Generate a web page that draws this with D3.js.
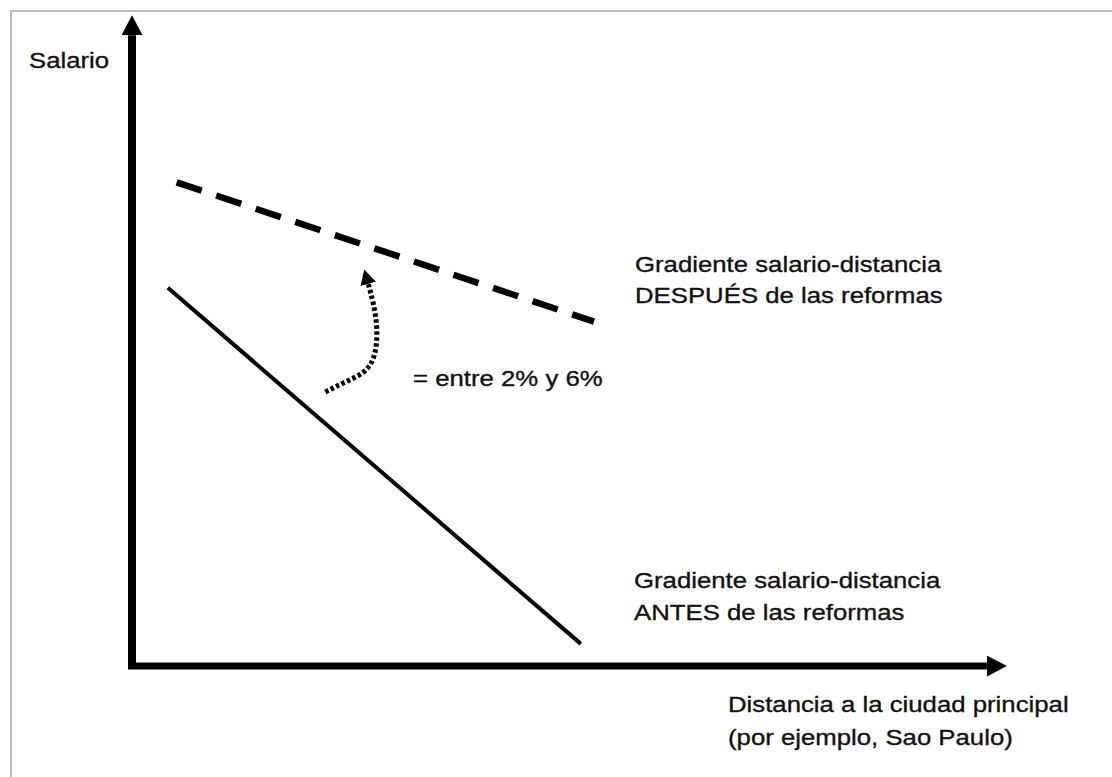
<!DOCTYPE html>
<meta charset="utf-8">
<title>gradiente salario-distancia</title>
<style>
body {
  margin: 0px;
  background: #fff;
}
svg {
  display: block;
}
text {
  font-family: "Liberation Sans", Arial, sans-serif;
  font-size: 23px;
  fill: #111;
  stroke: #111;
  stroke-width: 0.35px;
}
</style>

<script src="https://d3js.org/d3.v7.min.js"></script>

<body>
<script>
var width = 1112, height = 777;

// conceptual units: 0-100 on both axes
var antes = [[4.1, 58.1], [51.3, 3.4]];          // before the reforms (solid)
var despues = [[5.1, 74.3], [52.8, 52.9]];       // after the reforms (dashed)
var shift = [[22.1, 42.1], [24.3, 43.6], [26.6, 45.0], [27.6, 46.9],
             [28.0, 49.5], [28.0, 52.5], [27.6, 55.8], [27.0, 58.7]]; // dotted arrow

var labelAntes = ["Gradiente salario-distancia", "ANTES de las reformas"];
var labelDespues = ["Gradiente salario-distancia", "DESPUÉS de las reformas"];
var labelShift = ["= entre 2% y 6%"];
var labelX = ["Distancia a la ciudad principal", "(por ejemplo, Sao Paulo)"];
var labelY = ["Salario"];

var svg = d3.select("body").append("svg")
    .attr("width", width)
    .attr("height", height);

var x = d3.scaleLinear().domain([0, 100]).range([132, 1007]);
var y = d3.scaleLinear().domain([0, 100]).range([666, 15]);

var line = d3.line()
    .x(function(d) { return x(d[0]); })
    .y(function(d) { return y(d[1]); });

// frame
svg.append("rect")
    .attr("x", 11).attr("y", 11)
    .attr("width", width).attr("height", height)
    .attr("fill", "none")
    .attr("stroke", "#bdbdbd")
    .attr("stroke-width", 2);

var defs = svg.append("defs");
function arrow(id, w, h) {
  defs.append("marker")
      .attr("id", id)
      .attr("markerUnits", "userSpaceOnUse")
      .attr("viewBox", "0 " + (-h) + " " + w + " " + (2 * h))
      .attr("refX", 0).attr("refY", 0)
      .attr("markerWidth", w).attr("markerHeight", 2 * h)
      .attr("orient", "auto")
    .append("path")
      .attr("d", "M0," + (-h) + "L" + w + ",0L0," + h + "Z")
      .attr("fill", "#000");
}
arrow("axisArrow", 20, 10.5);
arrow("smallArrow", 15, 8);

// axes
svg.append("path")
    .attr("d", line([[0, 0], [0, 96.9]]))
    .attr("fill", "none")
    .attr("stroke", "#000")
    .attr("stroke-width", 8)
    .attr("marker-end", "url(#axisArrow)");
svg.append("path")
    .attr("d", "M" + (x(0) - 4) + "," + y(0) + "H" + x(97.7))
    .attr("fill", "none")
    .attr("stroke", "#000")
    .attr("stroke-width", 7)
    .attr("marker-end", "url(#axisArrow)");

// gradients
svg.append("path")
    .attr("d", line(antes))
    .attr("fill", "none")
    .attr("stroke", "#000")
    .attr("stroke-width", 4);

svg.append("path")
    .attr("d", line(despues))
    .attr("fill", "none")
    .attr("stroke", "#000")
    .attr("stroke-width", 6.5)
    .attr("stroke-dasharray", "26.4,15.3");

svg.append("path")
    .attr("d", line.curve(d3.curveBasis)(shift))
    .attr("fill", "none")
    .attr("stroke", "#000")
    .attr("stroke-width", 5)
    .attr("stroke-dasharray", "3.5,2.5")
    .attr("marker-end", "url(#smallArrow)");
line.curve(d3.curveLinear);

// labels (the source text is horizontally stretched)
function label(lines, px, py, dy) {
  var g = svg.append("g")
      .attr("transform", "translate(" + px + "," + py + ") scale(1.12,1)");
  g.selectAll("text")
      .data(lines)
    .enter().append("text")
      .attr("x", 0)
      .attr("y", function(d, i) { return i * dy; })
      .text(function(d) { return d; });
}
label(labelY, 29, 68, 0);
label(labelDespues, 635, 272, 31.5);
label(labelShift, 413, 386, 0);
label(labelAntes, 634, 588, 32);
label(labelX, 728, 712, 33);
</script>
